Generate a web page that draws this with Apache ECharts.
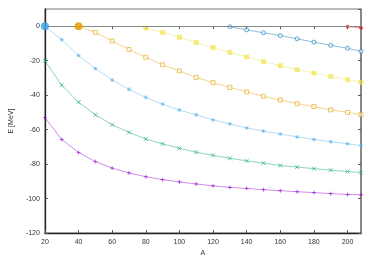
<!DOCTYPE html>
<html><head><meta charset="utf-8">
<script src="https://cdn.jsdelivr.net/npm/echarts@6/dist/echarts.min.js"></script>
<style>html,body{margin:0;padding:0;background:#fff}#c{width:374px;height:262px}</style>
</head><body><div id="c"></div>
<script>
const A = [20,30,40,50,60,70,80,90,100,110,120,130,140,150,160,170,180,190,200,208];
const xTicks = [20,40,60,80,100,120,140,160,180,200];
const yTicks = [-120,-100,-80,-60,-40,-20,0];
const ePurple = [-53,-65.7,-73.2,-78.5,-82.3,-85.1,-87.3,-89,-90.3,-91.5,-92.6,-93.5,-94.1,-94.8,-95.4,-96,-96.5,-97.1,-97.6,-97.8];
const eGreen = [-20,-34.2,-44.1,-51.4,-57.1,-61.6,-65.4,-68.2,-70.8,-73.1,-74.9,-76.6,-78.1,-79.4,-80.8,-81.7,-82.6,-83.5,-84.3,-84.9];
const eLightBlue = [0,-7.8,-17,-24.6,-31.2,-36.6,-41.3,-45.2,-48.6,-51.4,-54.3,-56.7,-59,-60.8,-62.5,-64.2,-65.7,-67,-68.2,-69.3];
const eOrange = [0,-3.6,-8.5,-13.5,-18,-22.4,-25.9,-29.7,-32.7,-35.5,-38.1,-40.6,-42.8,-44.9,-46.6,-48.5,-50,-51.3];
const eYellow = [-1.1,-3.6,-6.4,-9.4,-12.4,-15.2,-17.8,-20.5,-22.9,-25.2,-27.2,-29.1,-31,-32.5];
const eBlue = [-0.3,-2.1,-3.8,-5.4,-7.3,-9.2,-11.1,-12.8,-14.5];
const eRed = [-0.2,-1];
const boundA = [20,40];
const boundE = [0,0];

function pairs(vals){ const off = A.length - vals.length; return vals.map((v,i)=>[A[off+i], v]); }

const PLUS='path://M0,5L10,5M5,0L5,10';
const CROSS='path://M0,0L10,10M10,0L0,10';
const STAR='path://M0,5L10,5M5,0L5,10M1.5,1.5L8.5,8.5M8.5,1.5L1.5,8.5';

function lineSeries(vals,color,symbol,size,fill){
  return {type:'line',data:pairs(vals),symbol:symbol,symbolSize:size,showAllSymbol:true,
    lineStyle:{color:color,width:1,opacity:0.45},
    itemStyle:{color:fill,borderColor:color,borderWidth:1,opacity:0.6},
    emphasis:{disabled:true},z:3,animation:false};
}
const font = {fontFamily:'Liberation Sans',fontSize:7,color:'#333'};
const chart = echarts.init(document.getElementById('c'),null,{renderer:'canvas'});
chart.setOption({
  animation:false,
  grid:{left:35,top:9,right:13,bottom:24,show:true,borderColor:'#777',borderWidth:1},
  xAxis:[{type:'value',min:20,max:208,interval:20,
    axisLine:{show:true,onZero:false,lineStyle:{color:'#222',width:1.3}},
    axisTick:{inside:true,length:3,lineStyle:{color:'#555'}},
    axisLabel:Object.assign({margin:5,showMaxLabel:false},font),
    splitLine:{show:false},
    name:'A',nameLocation:'middle',nameGap:15,nameTextStyle:Object.assign({},font,{fontSize:7})},
    {type:'value',position:'top',min:20,max:208,interval:20,
    axisLine:{show:true,lineStyle:{color:'#444'}},axisTick:{inside:true,length:3,lineStyle:{color:'#555'}},
    axisLabel:{show:false},splitLine:{show:false}}],
  yAxis:[{type:'value',min:-120,max:10,interval:20,
    axisLine:{show:true,onZero:false,lineStyle:{color:'#222',width:1.3}},
    axisTick:{inside:true,length:3,lineStyle:{color:'#555'}},
    axisLabel:Object.assign({margin:5,showMaxLabel:false},font),
    splitLine:{show:false},
    name:'E [MeV]',nameLocation:'middle',nameGap:26,nameRotate:90,nameTextStyle:font},
    {type:'value',position:'right',min:-120,max:10,interval:20,
    axisLine:{show:true,lineStyle:{color:'#777',width:1.5}},axisTick:{inside:true,length:3,lineStyle:{color:'#555'}},
    axisLabel:{show:false},splitLine:{show:false}}],
  series:[
    {type:'line',data:[],markLine:{silent:true,symbol:'none',label:{show:false},
      lineStyle:{color:'#888',width:1,type:'solid'},data:[{yAxis:0}]},z:2},
    lineSeries(ePurple,'#9400d3',PLUS,4,'#9400d3'),
    lineSeries(eGreen,'#009e73',CROSS,4,'#009e73'),
    lineSeries(eLightBlue,'#56b4e9',STAR,4,'#56b4e9'),
    lineSeries(eOrange,'#e69f00','rect',4,'#fff'),
    lineSeries(eYellow,'#f0e442','rect',4,'#f0e442'),
    lineSeries(eBlue,'#0072b2','circle',4,'#fff'),
    lineSeries(eRed,'#e51e10','circle',3,'#e51e10'),
    {type:'scatter',data:boundA.map((a,i)=>[a,boundE[i]]),symbol:'circle',symbolSize:8,z:5,
      itemStyle:{color:(p)=>p.dataIndex===0?'#3ba3e2':'#e69f00'},emphasis:{disabled:true}}
  ]
});
</script></body></html>
